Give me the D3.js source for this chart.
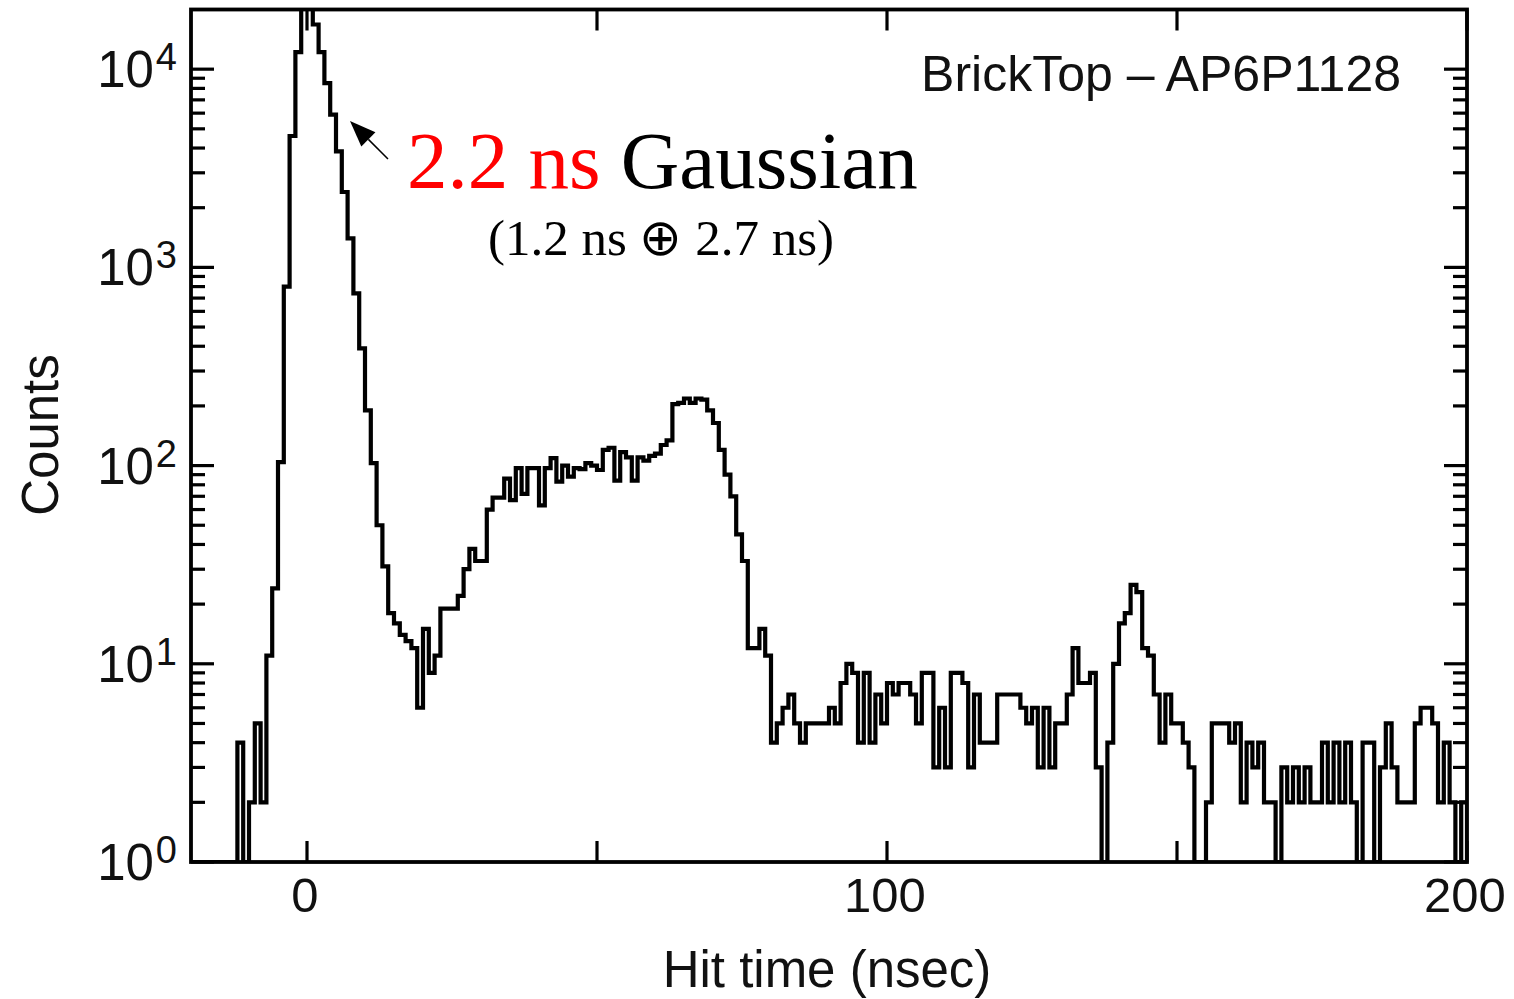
<!DOCTYPE html>
<html><head><meta charset="utf-8">
<script src="https://cdn.jsdelivr.net/npm/d3@7"></script>
<style>body{margin:0;background:#fff}svg{display:block}</style>
</head><body>
<svg id="c" width="1514" height="999"></svg>
<script>
// ---- data ----
const binLow = -20, binHigh = 200;          // histogram range (ns), 1 ns bins
const counts = [
  0,0,0,0,0,0,0,0,4,0, 2,5,2,11,24,104,800,4600,12200,24000,
  21000,16800,12200,8500,5900,3850,2400,1400,740,390, 190,103,50,31,18,16,14,13,12,6,
  15,9,11,19,19,19,22,30,38,33, 33,60,69,69,86,67,97,72,97,97,
  63,97,109,83,100,88,97,96,103,100, 95,120,123,84,117,110,84,110,106,112,
  115,127,134,204,207,218,207,218,215,190, 164,120,90,70,45,33,12,12,15,11,
  4,5,6,7,5,4,5,5,5,5, 6,5,8,10,9,4,9,4,7,5,
  8,7,8,8,7,5,9,9,3,6, 3,9,9,8,3,7,4,4,4,7,
  7,7,7,6,5,6,3,6,3,5, 5,7,12,8,8,9,3,0,4,10,
  16,18,25,23,12,11,7,4,7,5, 5,4,3,0,0,2,5,5,5,4,
  5,2,4,3,4,2,2,0,3,2, 3,2,3,2,2,4,2,4,2,4,
  2,0,4,4,0,3,5,3,2,2, 2,5,6,6,5,2,4,2,0,2
];
const xTickValues = [0, 50, 100, 150, 200];
const xLabelValues = [0, 100, 200];
const yDecadeExps = [0, 1, 2, 3, 4];
const yMinorMultipliers = [2, 3, 4, 5, 6, 7, 8, 9];
const yMax = 20000;
const titleText = "BrickTop \u2013 AP6P1128";
const xTitle = "Hit time (nsec)";
const yTitle = "Counts";
const annoRed = "2.2 ns";
const annoBlack = " Gaussian";
const annoSub = "(1.2 ns \u2295 2.7 ns)";

// ---- drawing ----
const svg = d3.select("#c");
const F = {l: 191, r: 1467, t: 9.5, b: 862};
const x = d3.scaleLinear().domain([binLow, binHigh]).range([F.l, F.r]);
const y = d3.scaleLog().domain([1, yMax]).range([F.b, F.t]);
const sans = "'Liberation Sans', Arial, Helvetica, sans-serif";
const serif = "'Liberation Serif', 'Times New Roman', serif";

svg.append("rect").attr("width",1514).attr("height",999).attr("fill","#fff");

svg.append("clipPath").attr("id","clip").append("rect")
  .attr("x",F.l).attr("y",F.t).attr("width",F.r-F.l).attr("height",F.b-F.t);

// histogram
const bw = (binHigh - binLow) / counts.length;
const pts = [[x(binLow), y(1)]];
counts.forEach((c, i) => {
  const yy = y(Math.max(c, 1));
  pts.push([x(binLow + i*bw), yy], [x(binLow + (i+1)*bw), yy]);
});
pts.push([x(binHigh), y(1)]);
svg.append("path").attr("clip-path","url(#clip)")
  .attr("d", d3.line()(pts))
  .attr("fill","none").attr("stroke","#000").attr("stroke-width",4.2)
  .attr("stroke-linejoin","miter");

// ticks
const tickG = svg.append("g").attr("stroke","#000").attr("stroke-width",3.2);
const majorY = yDecadeExps.map(e => Math.pow(10, e));
const minorY = [];
yDecadeExps.forEach(e => yMinorMultipliers.forEach(k => {
  const v = k*Math.pow(10, e); if (v < yMax) minorY.push(v);
}));
majorY.forEach(v => {
  tickG.append("line").attr("x1",F.l).attr("x2",F.l+23).attr("y1",y(v)).attr("y2",y(v));
  tickG.append("line").attr("x1",F.r).attr("x2",F.r-23).attr("y1",y(v)).attr("y2",y(v));
});
minorY.forEach(v => {
  tickG.append("line").attr("x1",F.l).attr("x2",F.l+14).attr("y1",y(v)).attr("y2",y(v));
  tickG.append("line").attr("x1",F.r).attr("x2",F.r-14).attr("y1",y(v)).attr("y2",y(v));
});
xTickValues.forEach(v => {
  tickG.append("line").attr("x1",x(v)).attr("x2",x(v)).attr("y1",F.b).attr("y2",F.b-21);
  tickG.append("line").attr("x1",x(v)).attr("x2",x(v)).attr("y1",F.t).attr("y2",F.t+21);
});

// frame
svg.append("rect").attr("x",F.l).attr("y",F.t).attr("width",F.r-F.l).attr("height",F.b-F.t)
  .attr("fill","none").attr("stroke","#000").attr("stroke-width",3.8);

// x labels
svg.selectAll(".xl").data(xLabelValues).enter().append("text")
  .attr("x", d => x(d) - 2).attr("y", 912).attr("text-anchor","middle")
  .attr("font-family", sans).attr("font-size", 49).attr("fill","#111")
  .text(d => d);

// y labels
yDecadeExps.forEach(e => {
  const t = svg.append("text").attr("x",177).attr("y", y(Math.pow(10,e)) + 18)
    .attr("text-anchor","end").attr("font-family", sans).attr("fill","#111");
  t.append("tspan").attr("font-size",51).text("10");
  t.append("tspan").attr("font-size",38).attr("dy",-17).attr("dx",2).text(e);
});

// axis titles
svg.append("text").attr("x", 827).attr("y", 987).attr("text-anchor","middle")
  .attr("font-family", sans).attr("font-size", 51).attr("fill","#111").text(xTitle);
svg.append("text").attr("transform","translate(58,435) rotate(-90)").attr("text-anchor","middle")
  .attr("font-family", sans).attr("font-size", 51).attr("fill","#111").text(yTitle);

// title
svg.append("text").attr("x", 1401).attr("y", 91).attr("text-anchor","end")
  .attr("font-family", sans).attr("font-size", 50).attr("fill","#111").text(titleText);

// annotation
const a = svg.append("text").attr("x", 407).attr("y", 188)
  .attr("font-family", serif).attr("font-size", 81);
a.append("tspan").attr("fill","#ff0000").text(annoRed);
a.append("tspan").attr("fill","#000").text(annoBlack);
svg.append("text").attr("x", 661).attr("y", 255).attr("text-anchor","middle")
  .attr("font-family", serif).attr("font-size", 51).attr("fill","#000").text(annoSub);

// arrow
const tip = [350, 121], tail = [388, 159];
const ang = Math.atan2(tail[1]-tip[1], tail[0]-tip[0]);
const hl = 26, hw = 10;
const bx = tip[0] + hl*Math.cos(ang), by = tip[1] + hl*Math.sin(ang);
svg.append("line").attr("x1",bx).attr("y1",by).attr("x2",tail[0]).attr("y2",tail[1])
  .attr("stroke","#000").attr("stroke-width",1.5);
svg.append("path").attr("d", d3.line()([
  tip,
  [bx + hw*Math.sin(ang), by - hw*Math.cos(ang)],
  [bx - hw*Math.sin(ang), by + hw*Math.cos(ang)]
]) + "Z").attr("fill","#000");
</script>
</body></html>
